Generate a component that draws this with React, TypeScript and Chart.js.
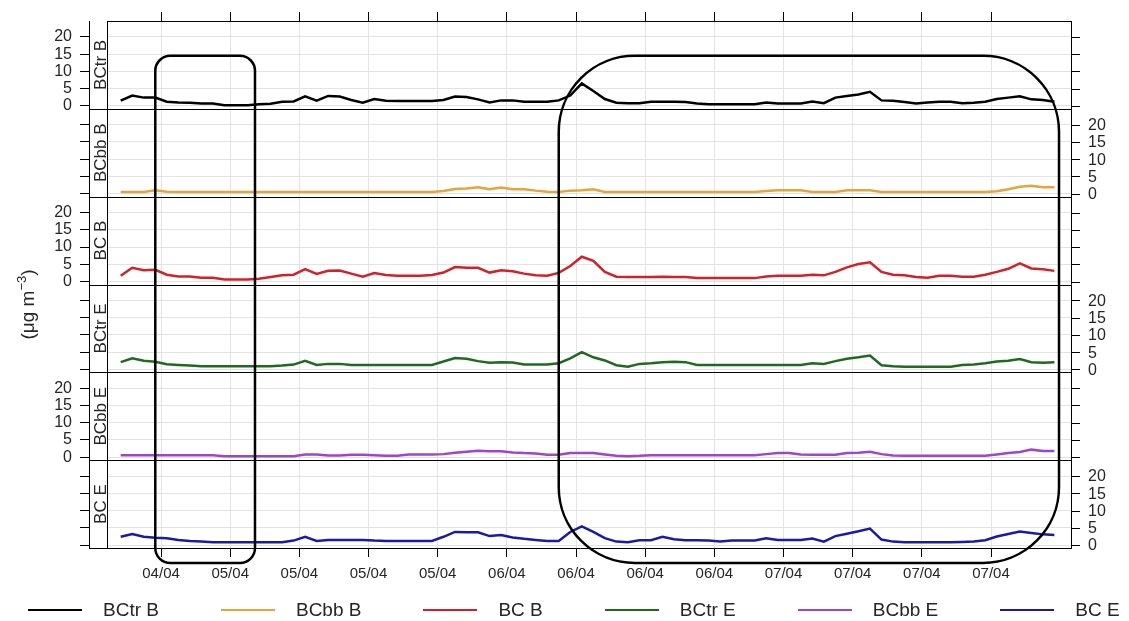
import React, { useEffect, useRef } from "react";
import { Chart, registerables } from "chart.js";

Chart.register(...registerables);

const FONT = "'Liberation Sans', Arial, Helvetica, sans-serif";

// hours since 04/04 00:00 (hourly averages)
const HOURS = [
  14.5, 15.5, 16.5, 17.5, 18.5, 19.5, 20.5, 21.5, 22.5, 23.5,
  24.5, 25.5, 26.5, 27.5, 28.5, 29.5, 30.5, 31.5, 32.5, 33.5,
  34.5, 35.5, 36.5, 37.5, 38.5, 39.5, 40.5, 41.5, 42.5, 43.5,
  44.5, 45.5, 46.5, 47.5, 48.5, 49.5, 50.5, 51.5, 52.5, 53.5,
  54.5, 55.5, 56.5, 57.5, 58.5, 59.5, 60.5, 61.5, 62.5, 63.5,
  64.5, 65.5, 66.5, 67.5, 68.5, 69.5, 70.5, 71.5, 72.5, 73.5,
  74.5, 75.5, 76.5, 77.5, 78.5, 79.5, 80.5, 81.5, 82.5, 83.5,
  84.5, 85.5, 86.5, 87.5, 88.5, 89.5, 90.5, 91.5, 92.5, 93.5,
  94.5, 95.5,
];

const TICK_HOURS = [18, 24, 30, 36, 42, 48, 54, 60, 66, 72, 78, 84, 90];
const TICK_LABELS = [
  "04/04", "05/04", "05/04", "05/04", "05/04", "06/04", "06/04",
  "06/04", "06/04", "07/04", "07/04", "07/04", "07/04",
];
const Y_TICKS = [0, 5, 10, 15, 20];

const BCTR_B = [
  1.5, 3.0, 2.4, 2.4, 1.2, 1.0, 0.9, 0.7, 0.7, 0.2,
  0.2, 0.2, 0.5, 0.6, 1.2, 1.3, 2.8, 1.5, 2.9, 2.7,
  1.7, 0.9, 2.0, 1.5, 1.4, 1.4, 1.4, 1.4, 1.7, 2.7,
  2.6, 1.9, 1.0, 1.6, 1.6, 1.2, 1.2, 1.2, 1.6, 3.0,
  6.5, 4.3, 2.0, 0.9, 0.8, 0.8, 1.2, 1.2, 1.2, 1.1,
  0.7, 0.5, 0.5, 0.5, 0.5, 0.5, 1.0, 0.7, 0.7, 0.7,
  1.3, 0.8, 2.4, 2.9, 3.3, 4.1, 1.6, 1.5, 1.1, 0.7,
  1.0, 1.2, 1.2, 0.8, 0.9, 1.2, 2.0, 2.4, 2.8, 1.9,
  1.7, 1.2,
];
const BCBB_B = [
  0.5, 0.5, 0.5, 1.0, 0.6, 0.5, 0.5, 0.5, 0.5, 0.5,
  0.5, 0.5, 0.5, 0.5, 0.5, 0.5, 0.5, 0.5, 0.5, 0.5,
  0.5, 0.5, 0.5, 0.5, 0.5, 0.5, 0.5, 0.5, 0.8, 1.4,
  1.5, 1.9, 1.3, 1.8, 1.3, 1.3, 0.9, 0.6, 0.5, 0.9,
  1.0, 1.3, 0.5, 0.5, 0.5, 0.5, 0.5, 0.5, 0.5, 0.5,
  0.5, 0.5, 0.5, 0.5, 0.5, 0.5, 0.8, 1.0, 1.0, 1.0,
  0.5, 0.5, 0.5, 1.0, 1.0, 1.0, 0.5, 0.5, 0.5, 0.5,
  0.5, 0.5, 0.5, 0.5, 0.5, 0.5, 0.7, 1.3, 2.0, 2.3,
  1.9, 1.9,
];
const BC_B = [
  1.7, 4.0, 3.3, 3.4, 2.0, 1.5, 1.5, 1.1, 1.1, 0.6,
  0.6, 0.6, 0.8, 1.3, 1.8, 2.0, 3.6, 2.2, 3.1, 3.2,
  2.3, 1.4, 2.5, 1.9, 1.7, 1.7, 1.7, 1.9, 2.6, 4.2,
  4.0, 4.0, 2.6, 3.3, 3.0, 2.3, 1.8, 1.7, 2.5, 4.5,
  7.2, 6.0, 2.8, 1.4, 1.3, 1.3, 1.3, 1.4, 1.3, 1.3,
  1.0, 1.0, 1.0, 1.0, 1.0, 1.0, 1.5, 1.7, 1.7, 1.7,
  2.0, 1.8, 2.8, 4.1, 5.1, 5.6, 2.8, 2.0, 1.8, 1.3,
  1.1, 1.7, 1.7, 1.4, 1.4, 2.0, 2.8, 3.7, 5.3, 3.8,
  3.6, 3.1,
];
const BCTR_E = [
  2.1, 3.2, 2.5, 2.2, 1.5, 1.3, 1.1, 0.9, 0.9, 0.9,
  0.9, 0.9, 0.9, 0.9, 1.1, 1.4, 2.5, 1.3, 1.6, 1.6,
  1.3, 1.3, 1.3, 1.3, 1.3, 1.3, 1.3, 1.3, 2.3, 3.3,
  3.1, 2.4, 1.9, 2.1, 2.0, 1.4, 1.4, 1.4, 1.8, 3.2,
  5.0, 3.5, 2.6, 1.2, 0.8, 1.6, 1.8, 2.1, 2.2, 2.1,
  1.3, 1.3, 1.3, 1.3, 1.3, 1.3, 1.3, 1.3, 1.3, 1.3,
  1.8, 1.6, 2.4, 3.1, 3.5, 4.0, 1.2, 0.9, 0.8, 0.8,
  0.8, 0.8, 0.8, 1.3, 1.4, 1.8, 2.3, 2.5, 3.0, 2.1,
  1.9, 2.1,
];
const BCBB_E = [
  0.6, 0.6, 0.6, 0.6, 0.6, 0.6, 0.6, 0.6, 0.6, 0.3,
  0.3, 0.3, 0.3, 0.3, 0.3, 0.3, 0.8, 0.8, 0.5, 0.5,
  0.7, 0.7, 0.6, 0.4, 0.4, 0.8, 0.8, 0.8, 0.9, 1.3,
  1.6, 1.9, 1.7, 1.7, 1.4, 1.2, 1.1, 0.7, 0.7, 1.2,
  1.2, 1.2, 0.8, 0.4, 0.3, 0.4, 0.6, 0.6, 0.6, 0.6,
  0.6, 0.6, 0.6, 0.6, 0.6, 0.6, 0.9, 1.2, 1.2, 0.8,
  0.7, 0.7, 0.7, 1.2, 1.3, 1.6, 0.9, 0.5, 0.4, 0.4,
  0.4, 0.4, 0.4, 0.4, 0.4, 0.4, 0.8, 1.2, 1.5, 2.2,
  1.8, 1.8,
];
const BC_E = [
  2.4, 3.2, 2.4, 2.1, 2.0, 1.5, 1.2, 1.0, 0.8, 0.8,
  0.8, 0.8, 0.8, 0.8, 0.8, 1.3, 2.4, 1.2, 1.5, 1.5,
  1.5, 1.5, 1.3, 1.2, 1.2, 1.2, 1.2, 1.2, 2.4, 3.8,
  3.7, 3.7, 2.6, 2.9, 2.2, 1.8, 1.5, 1.2, 1.2, 3.8,
  5.4, 3.8, 2.0, 1.0, 0.8, 1.4, 1.4, 2.4, 1.7, 1.4,
  1.4, 1.3, 1.0, 1.3, 1.3, 1.3, 2.0, 1.5, 1.5, 1.5,
  1.9, 1.0, 2.6, 3.3, 4.0, 4.8, 1.6, 1.0, 0.8, 0.8,
  0.8, 0.8, 0.8, 0.9, 1.0, 1.4, 2.5, 3.2, 3.9, 3.5,
  3.1, 2.9,
];

const SERIES_NAMES = ["BCtr B", "BCbb B", "BC B", "BCtr E", "BCbb E", "BC E"];
const SERIES_COLORS = ["#000000", "#E8A33A", "#D42128", "#1E6B1E", "#A044CC", "#1A1AA8"];
const SERIES_VALUES = [BCTR_B, BCBB_B, BC_B, BCTR_E, BCBB_E, BC_E];

// highlighted periods (hours) drawn as rounded boxes
const HIGHLIGHT_FROM = [17.5, 52.5];
const HIGHLIGHT_TO = [26.15, 95.9];
const HIGHLIGHT_RADIUS = [15, 76];
const HIGHLIGHT_TOP_VALUE = 14.5;

const Y_MIN = -0.85;
const Y_MAX = 24.6;
const X_MIN = 11.75;
const X_MAX = 96.94;
const STRIP_W = 18;
const TEXT = "#262626";

const panelPlugin = {
  id: "latticePanels",
  beforeDatasetsDraw(chart: any) {
    const { ctx, chartArea } = chart;
    ctx.save();
    ctx.fillStyle = "#ffffff";
    ctx.fillRect(chartArea.left + 1, chartArea.top, STRIP_W - 1, chartArea.bottom - chartArea.top);
    ctx.restore();
  },
  afterDraw(chart: any) {
    const { ctx, chartArea } = chart;
    const { left, right, top, bottom } = chartArea;
    ctx.save();
    ctx.strokeStyle = "#000";
    ctx.lineWidth = 1;
    ctx.beginPath();
    const sx = Math.round(left + STRIP_W) + 0.5;
    ctx.moveTo(sx, top);
    ctx.lineTo(sx, bottom);
    const rx = Math.round(right) + 0.5;
    ctx.moveTo(rx, top);
    ctx.lineTo(rx, bottom);
    SERIES_NAMES.forEach((_, i) => {
      const sc = chart.scales["y" + i];
      if (i < SERIES_NAMES.length - 1) {
        const y = Math.round(sc.bottom) + 0.5;
        ctx.moveTo(left, y);
        ctx.lineTo(right, y);
      }
      Y_TICKS.forEach((v) => {
        const y = Math.round(sc.getPixelForValue(v)) + 0.5;
        ctx.moveTo(right, y);
        ctx.lineTo(right + 9, y);
      });
    });
    ctx.stroke();

    // right-side tick labels for alternate panels
    ctx.fillStyle = TEXT;
    ctx.font = `16px ${FONT}`;
    ctx.textAlign = "left";
    ctx.textBaseline = "middle";
    SERIES_NAMES.forEach((_, i) => {
      if (i % 2 === 1) {
        const sc = chart.scales["y" + i];
        Y_TICKS.forEach((v) => {
          ctx.fillText(String(v), right + 17, sc.getPixelForValue(v) + 1);
        });
      }
    });

    // strip labels
    ctx.font = `17px ${FONT}`;
    SERIES_NAMES.forEach((name, i) => {
      const sc = chart.scales["y" + i];
      ctx.save();
      ctx.translate(left + STRIP_W - 1, (sc.top + sc.bottom) / 2);
      ctx.rotate(-Math.PI / 2);
      ctx.textAlign = "center";
      ctx.textBaseline = "alphabetic";
      ctx.fillText(name, 0, 0);
      ctx.restore();
    });

    // y-axis title (µg m^-3)
    ctx.save();
    ctx.translate(34, (top + bottom) / 2 + 20);
    ctx.rotate(-Math.PI / 2);
    ctx.textBaseline = "alphabetic";
    ctx.textAlign = "left";
    const mainFont = `19px ${FONT}`;
    const supFont = `13px ${FONT}`;
    ctx.font = mainFont;
    const w1 = ctx.measureText("(\u03BCg m").width;
    const w3 = ctx.measureText(")").width;
    ctx.font = supFont;
    const w2 = ctx.measureText("\u22123").width;
    let x = -(w1 + w2 + w3) / 2;
    ctx.font = mainFont;
    ctx.fillText("(\u03BCg m", x, 0);
    x += w1;
    ctx.font = supFont;
    ctx.fillText("\u22123", x, -8);
    x += w2;
    ctx.font = mainFont;
    ctx.fillText(")", x, 0);
    ctx.restore();

    // highlight boxes
    const xs = chart.scales.x;
    const y0 = chart.scales.y0;
    ctx.strokeStyle = "#000";
    ctx.lineWidth = 2.5;
    HIGHLIGHT_FROM.forEach((from, k) => {
      const x1 = xs.getPixelForValue(from);
      const x2 = xs.getPixelForValue(HIGHLIGHT_TO[k]);
      const yT = y0.getPixelForValue(HIGHLIGHT_TOP_VALUE);
      const yB = bottom + 15;
      ctx.beginPath();
      (ctx as any).roundRect(x1, yT, x2 - x1, yB - yT, HIGHLIGHT_RADIUS[k]);
      ctx.stroke();
    });
    ctx.restore();
  },
};

export default function App() {
  const ref = useRef<HTMLCanvasElement>(null);

  useEffect(() => {
    const canvas = ref.current;
    if (!canvas) return;
    Chart.defaults.font.family = FONT;

    const yScales: any = {};
    SERIES_NAMES.forEach((_, i) => {
      yScales["y" + i] = {
        type: "linear",
        position: "left",
        stack: "panels",
        stackWeight: 1,
        weight: SERIES_NAMES.length - i,
        min: Y_MIN,
        max: Y_MAX,
        afterBuildTicks: (scale: any) => {
          scale.ticks = Y_TICKS.map((v) => ({ value: v }));
        },
        afterFit: (scale: any) => {
          scale.width = 89;
        },
        ticks: {
          callback: (v: any) => (i % 2 === 0 ? String(v) : ""),
          font: { size: 16, family: FONT },
          color: TEXT,
          padding: 8,
          autoSkip: false,
        },
        grid: { color: "#e3e3e3", tickColor: "#000", tickLength: 9, lineWidth: 1 },
        border: { display: true, color: "#000", width: 1 },
      };
    });

    const chart = new Chart(canvas, {
      type: "line",
      data: {
        datasets: SERIES_NAMES.map((name, i) => ({
          label: name,
          data: HOURS.map((h, j) => ({ x: h, y: SERIES_VALUES[i][j] })),
          yAxisID: "y" + i,
          xAxisID: "x",
          borderColor: SERIES_COLORS[i],
          backgroundColor: SERIES_COLORS[i],
          borderWidth: 2.5,
          pointRadius: 0,
          fill: false,
          tension: 0,
        })),
      },
      options: {
        animation: false,
        responsive: false,
        devicePixelRatio: 1,
        layout: { padding: { left: 0, right: 58, top: 0, bottom: 0 } },
        plugins: { legend: { display: false }, tooltip: { enabled: false } },
        scales: {
          x: {
            type: "linear",
            position: "bottom",
            min: X_MIN,
            max: X_MAX,
            afterBuildTicks: (scale: any) => {
              scale.ticks = TICK_HOURS.map((v) => ({ value: v }));
            },
            afterFit: (scale: any) => {
              scale.height = 73;
            },
            ticks: {
              callback: (_v: any, idx: number) => TICK_LABELS[idx],
              font: { size: 15, family: FONT },
              color: TEXT,
              padding: 8,
              maxRotation: 0,
              autoSkip: false,
            },
            grid: { color: "#e3e3e3", tickColor: "#000", tickLength: 9 },
            border: { display: true, color: "#000", width: 1 },
          },
          xTop: {
            type: "linear",
            position: "top",
            min: X_MIN,
            max: X_MAX,
            afterBuildTicks: (scale: any) => {
              scale.ticks = TICK_HOURS.map((v) => ({ value: v }));
            },
            afterFit: (scale: any) => {
              scale.height = 21;
            },
            ticks: { display: false, autoSkip: false },
            grid: { drawOnChartArea: false, tickColor: "#000", tickLength: 9 },
            border: { display: true, color: "#000", width: 1 },
          },
          ...yScales,
        },
      } as any,
      plugins: [panelPlugin],
    });
    return () => chart.destroy();
  }, []);

  return (
    <div style={{ position: "absolute", left: 0, top: 0, width: 1129, height: 621, background: "#fff", overflow: "hidden" }}>
      <canvas ref={ref} width={1129} height={621} style={{ position: "absolute", left: 0, top: 0, width: 1129, height: 621 }} />
      <div
        style={{
          position: "absolute",
          left: 28,
          top: 598,
          height: 24,
          display: "flex",
          alignItems: "center",
          fontFamily: FONT,
          fontSize: 19,
          color: TEXT,
          whiteSpace: "nowrap",
        }}
      >
        {SERIES_NAMES.map((name, i) => (
          <div key={name} style={{ display: "flex", alignItems: "center", marginRight: i < SERIES_NAMES.length - 1 ? 62 : 0 }}>
            <span style={{ display: "inline-block", width: 54, height: 2.5, background: SERIES_COLORS[i], marginRight: 21 }} />
            <span>{name}</span>
          </div>
        ))}
      </div>
    </div>
  );
}
